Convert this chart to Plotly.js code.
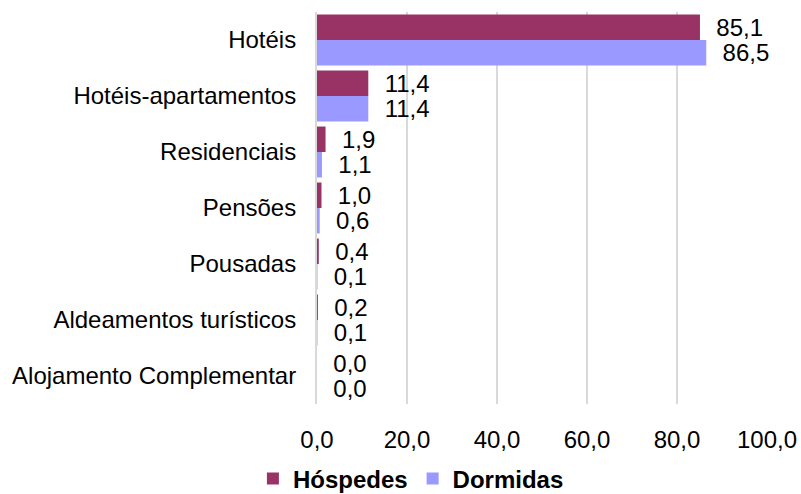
<!DOCTYPE html>
<html>
<head>
<meta charset="utf-8">
<script src="https://cdn.plot.ly/plotly-3.0.1.min.js"></script>
<style>html,body{margin:0;padding:0;background:#fff;}#chart{width:801px;height:494px;}</style>
</head>
<body>
<div id="chart"></div>
<script>
var categories = ["Hotéis", "Hotéis-apartamentos", "Residenciais", "Pensões", "Pousadas", "Aldeamentos turísticos", "Alojamento Complementar"];
var hospedes = [85.1, 11.4, 1.9, 1.0, 0.4, 0.2, 0.0];
var dormidas = [86.5, 11.4, 1.1, 0.6, 0.1, 0.1, 0.0];
var xTicks = [0, 20, 40, 60, 80, 100];

var FONT = "Liberation Sans, Arial, sans-serif";
var FS = 24;

var traces = [
  {type: "bar", orientation: "h", name: "Hóspedes", y: categories, x: hospedes,
   marker: {color: "#993366"},
   texttemplate: "\u00a0\u00a0%{x:.1f}", textposition: "outside", cliponaxis: false, constraintext: "none",
   textfont: {family: FONT, size: FS, color: "#000"}, hoverinfo: "none"},
  {type: "bar", orientation: "h", name: "Dormidas", y: categories, x: dormidas,
   marker: {color: "#9999FF"},
   texttemplate: "\u00a0\u00a0%{x:.1f}", textposition: "outside", cliponaxis: false, constraintext: "none",
   textfont: {family: FONT, size: FS, color: "#000"}, hoverinfo: "none"}
];

var layout = {
  width: 801, height: 494,
  margin: {l: 317, r: 34, t: 12, b: 90, autoexpand: false},
  paper_bgcolor: "#fff", plot_bgcolor: "#fff",
  separators: ",.",
  font: {family: FONT, size: FS, color: "#000"},
  barmode: "group", bargap: 0.09, bargroupgap: 0,
  showlegend: true,
  legend: {orientation: "h", xref: "container", yref: "container", x: 0.513, xanchor: "center", y: 0.076, yanchor: "top",
           font: {family: FONT, size: FS, color: "#000", weight: "bold"}, traceorder: "normal", itemwidth: 30},
  xaxis: {range: [0, 100], tickvals: xTicks, tickformat: ".1f", showgrid: true, gridcolor: "#d9d9d9", gridwidth: 2,
          zeroline: false, showline: false, ticks: "", ticklabelstandoff: 19, fixedrange: true},
  yaxis: {autorange: "reversed", type: "category", showline: true, linecolor: "#d9d9d9", linewidth: 2,
          ticks: "", ticklabelstandoff: 14, showgrid: false, fixedrange: true}
};

Plotly.newPlot("chart", traces, layout, {displayModeBar: false, staticPlot: true});
</script>
</body>
</html>
